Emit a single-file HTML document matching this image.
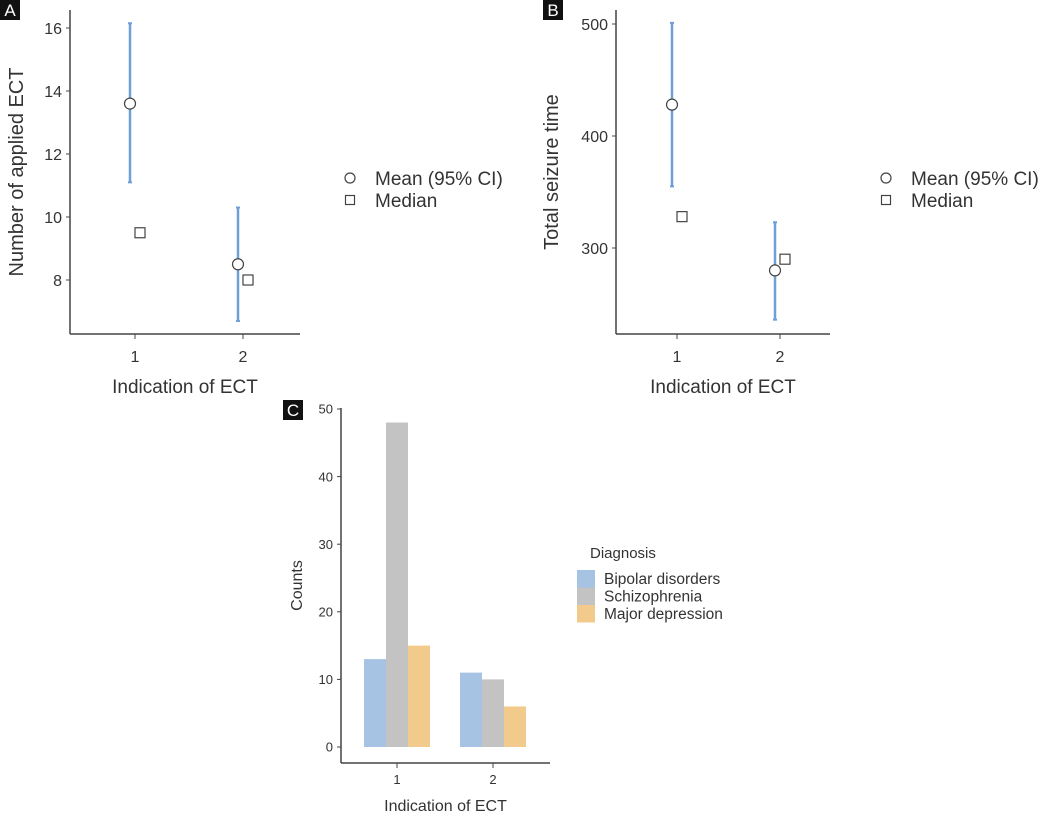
<!DOCTYPE html>
<html><head><meta charset="utf-8"><style>
body{margin:0;background:#fff;width:1059px;height:819px;overflow:hidden}
svg{font-family:"Liberation Sans",sans-serif}
</style></head><body>
<svg id="s" width="1059" height="819" xmlns="http://www.w3.org/2000/svg"></svg>
<script>
const groups=["1","2"];
const aMean=[13.6,8.5], aLo=[11.1,6.7], aHi=[16.15,10.3], aMed=[9.5,8.0];
const aTicks=[8,10,12,14,16];
const bMean=[428,280], bLo=[355,236], bHi=[501,323], bMed=[328,290];
const bTicks=[300,400,500];
const diag=["Bipolar disorders","Schizophrenia","Major depression"];
const cCounts=[[13,11],[48,10],[15,6]];
const cTicks=[0,10,20,30,40,50];
const colors=["#a6c3e3","#c3c3c3","#f1ca8c"];
const S=document.getElementById('s');
const NS="http://www.w3.org/2000/svg";
function el(tag,attrs,txt){const e=document.createElementNS(NS,tag);for(const k in attrs)e.setAttribute(k,attrs[k]);if(txt!=null)e.textContent=txt;S.appendChild(e);return e;}
function badge(x,y,t,n){const g1=el('rect',{x:x,y:y,width:20,height:20,fill:'#111'});
const t1=el('text',{x:x+10,y:y+16,fill:'#fff','font-size':17,'text-anchor':'middle'},t);}
function panel(o){
 const y=v=>o.y0+(v-o.v0)*(o.y1-o.y0)/(o.v1-o.v0);
 const x=i=>o.x1+i*(o.x2-o.x1);
 let a=el('line',{x1:o.ax,y1:o.top,x2:o.ax,y2:o.bot,stroke:'#444','stroke-width':1.5});
 a=el('line',{x1:o.ax,y1:o.bot,x2:o.right,y2:o.bot,stroke:'#444','stroke-width':1.5});
 o.ticks.forEach(t=>{el('line',{x1:o.ax-4,x2:o.ax,y1:y(t),y2:y(t),stroke:'#444'});
  const tt=el('text',{x:o.ax-8,y:y(t)+o.tfs*0.36,'font-size':o.tfs,fill:'#333','text-anchor':'end'},t);});
 groups.forEach((g,i)=>{el('line',{x1:x(i),x2:x(i),y1:o.bot,y2:o.bot+5,stroke:'#444'});
  const tt=el('text',{x:x(i),y:o.bot+o.xtoff,'font-size':o.tfs,fill:'#333','text-anchor':'middle'},g);});
 let t=el('text',{x:(o.ax+o.right)/2,y:o.bot+o.xtitoff,'font-size':o.xtfs,fill:'#333','text-anchor':'middle'},'Indication of ECT');
 t=el('text',{x:0,y:0,'font-size':o.ytfs,fill:'#333','text-anchor':'middle',transform:`translate(${o.ytx},${(o.top+o.bot)/2}) rotate(-90)`},o.ytitle);
 return {x,y};
}
function ciPanel(o,mean,lo,hi,med){
 const {x,y}=panel(o);
 groups.forEach((g,i)=>{const cx=x(i)-5;
  let e=el('line',{x1:cx,x2:cx,y1:y(lo[i]),y2:y(hi[i]),stroke:'#6f9fd8','stroke-width':2.5});
  el('line',{x1:cx-2,x2:cx+2,y1:y(lo[i]),y2:y(lo[i]),stroke:'#6f9fd8','stroke-width':2});
  el('line',{x1:cx-2,x2:cx+2,y1:y(hi[i]),y2:y(hi[i]),stroke:'#6f9fd8','stroke-width':2});
  e=el('circle',{cx:cx,cy:y(mean[i]),r:5.5,fill:'#fff',stroke:'#444','stroke-width':1.2});
  e=el('rect',{x:x(i)+5-5,y:y(med[i])-5,width:10,height:10,fill:'#fff',stroke:'#444','stroke-width':1.2});
 });
 let e=el('circle',{cx:o.lx,cy:178,r:5,fill:'#fff',stroke:'#444','stroke-width':1.2});
 e=el('text',{x:o.lx+25,y:185,'font-size':19,fill:'#333'},'Mean (95% CI)');
 e=el('rect',{x:o.lx-4.5,y:195.5,width:9,height:9,fill:'#fff',stroke:'#444','stroke-width':1.2});
 e=el('text',{x:o.lx+25,y:207,'font-size':19,fill:'#333'},'Median');
}
ciPanel({n:'panel-a',ax:70,top:10,bot:334,right:300,x1:135,x2:243,v0:16,y0:28,v1:8,y1:280,ticks:aTicks,ytitle:'Number of applied ECT',ytx:23,ytfs:20,tfs:16,xtoff:28,xtitoff:59,xtfs:19,lx:350},aMean,aLo,aHi,aMed);
ciPanel({n:'panel-b',ax:616,top:10,bot:334,right:830,x1:677,x2:780,v0:500,y0:24,v1:300,y1:248,ticks:bTicks,ytitle:'Total seizure time',ytx:558,ytfs:20,tfs:16,xtoff:28,xtitoff:59,xtfs:19,lx:886},bMean,bLo,bHi,bMed);
badge(0,0,'A','panel-a');badge(543,0,'B','panel-b');badge(283,400,'C','panel-c');
// Panel C
const pc=panel({n:'panel-c',ax:341,top:408,bot:763,right:550,x1:397,x2:493,v0:0,y0:747,v1:50,y1:409,ticks:cTicks,ytitle:'Counts',ytx:302,ytfs:16,tfs:13,xtoff:21,xtitoff:48,xtfs:16});
const bw=22;
diag.forEach((d,k)=>{groups.forEach((g,i)=>{const v=cCounts[k][i];
 const r=el('rect',{x:pc.x(i)-33+k*bw,y:pc.y(v),width:bw,height:pc.y(0)-pc.y(v),fill:colors[k]});
 
 });});
let lt=el('text',{x:590,y:558,'font-size':15,fill:'#333'},'Diagnosis');
diag.forEach((d,k)=>{const yy=570+k*17.5;
 const r=el('rect',{x:577,y:yy,width:18,height:17.5,fill:colors[k]});
 const t=el('text',{x:604,y:yy+14,'font-size':15.5,fill:'#333'},d);});
</script>
</body></html>
